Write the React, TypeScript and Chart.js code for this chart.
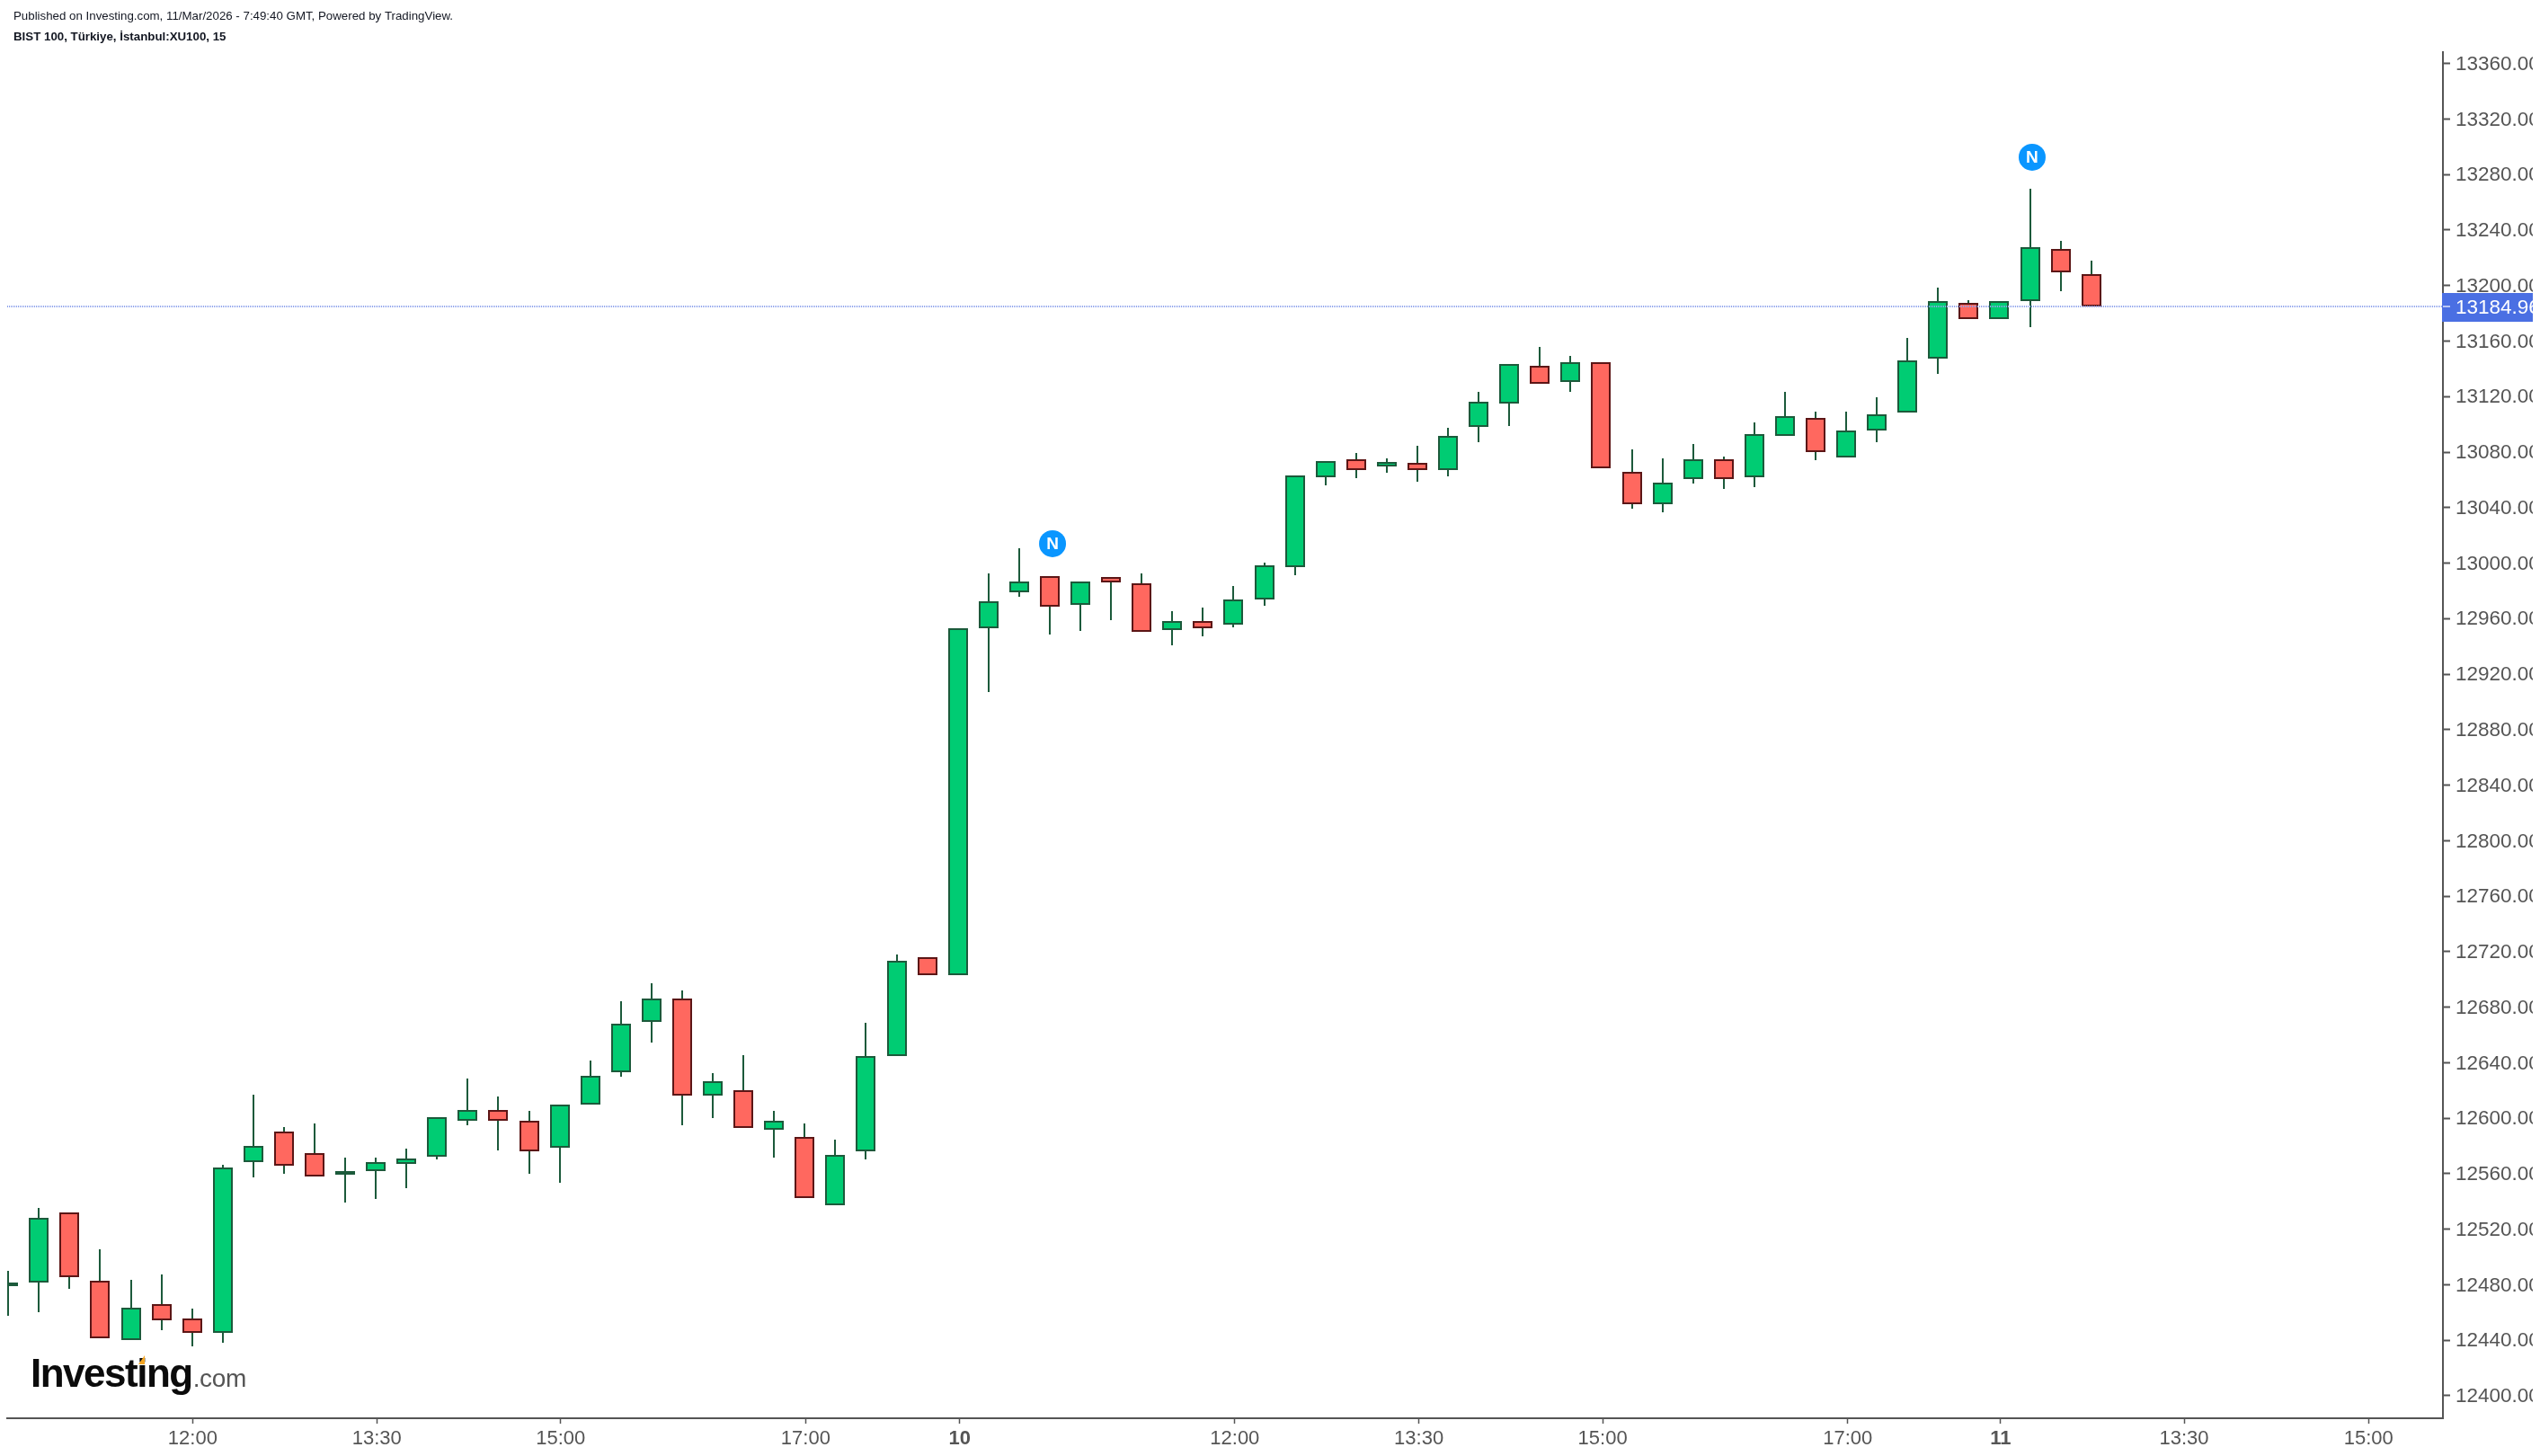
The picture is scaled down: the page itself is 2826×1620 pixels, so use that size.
import React, { useEffect, useRef } from "react";
import { Chart, registerables } from "chart.js";

Chart.register(...registerables);

const WIDTH = 2818;
const HEIGHT = 1620;

const openPrices = [
  12478.8, 12481.4, 12532.3, 12483.1, 12439.9, 12466.2, 12455.9, 12445.1, 12568.2, 12590.6,
  12575.0, 12559.1, 12561.7, 12566.9, 12572.0, 12598.0, 12606.1, 12598.3, 12578.5, 12609.6,
  12632.9, 12669.2, 12686.4, 12616.1, 12620.4, 12591.5, 12586.7, 12537.1, 12575.9, 12644.6,
  12716.2, 12702.9, 12952.9, 12978.8, 12990.8, 12969.7, 12989.8, 12985.6, 12951.6, 12958.4,
  12955.5, 12973.6, 12996.9, 13061.7, 13075.0, 13069.5, 13072.4, 13066.9, 13098.0, 13114.8,
  13142.4, 13130.3, 13145.0, 13066.0, 13042.3, 13060.4, 13075.0, 13061.7, 13091.5, 13104.8,
  13075.9, 13095.4, 13108.3, 13147.2, 13187.7, 13175.7, 13188.6, 13226.6, 13208.4,
];
const highPrices = [
  12490.0, 12535.3, 12532.3, 12505.5, 12483.5, 12487.4, 12462.8, 12566.4, 12616.9, 12593.6,
  12596.2, 12571.6, 12571.6, 12578.1, 12600.9, 12628.6, 12615.6, 12605.3, 12610.0, 12641.5,
  12684.3, 12697.2, 12692.1, 12632.5, 12645.4, 12605.3, 12596.2, 12584.5, 12668.7, 12718.0,
  12716.2, 12953.3, 12992.6, 13010.7, 12990.8, 12986.9, 12989.8, 12992.6, 12965.4, 12968.0,
  12983.5, 13000.3, 13063.4, 13073.7, 13079.4, 13075.5, 13084.5, 13097.5, 13123.4, 13143.7,
  13155.8, 13149.3, 13145.0, 13082.0, 13075.5, 13085.8, 13076.8, 13101.4, 13123.4, 13109.2,
  13109.2, 13119.5, 13162.3, 13198.5, 13189.5, 13189.0, 13269.8, 13232.2, 13218.0,
];
const lowPrices = [
  12457.6, 12460.2, 12477.0, 12441.2, 12439.9, 12447.2, 12435.6, 12438.2, 12557.3, 12559.9,
  12557.8, 12539.2, 12541.8, 12549.6, 12570.3, 12594.9, 12576.8, 12559.9, 12553.4, 12609.6,
  12629.9, 12654.5, 12594.9, 12600.1, 12592.8, 12571.6, 12542.3, 12537.1, 12570.3, 12644.6,
  12702.9, 12702.9, 12907.1, 12975.7, 12948.5, 12951.1, 12958.9, 12950.3, 12940.8, 12947.2,
  12953.7, 12969.3, 12991.3, 13056.0, 13061.2, 13065.1, 13058.6, 13062.5, 13087.1, 13098.8,
  13129.0, 13123.4, 13068.2, 13039.2, 13036.6, 13057.3, 13053.5, 13054.8, 13091.5, 13074.2,
  13075.9, 13087.1, 13108.3, 13136.4, 13175.7, 13175.7, 13170.0, 13196.0, 13184.96,
];
const closePrices = [
  12481.8, 12528.4, 12485.3, 12441.2, 12463.6, 12454.2, 12445.1, 12564.7, 12580.2, 12565.6,
  12557.8, 12562.1, 12568.5, 12571.1, 12600.9, 12606.1, 12598.0, 12575.9, 12610.0, 12630.7,
  12668.3, 12686.4, 12616.1, 12626.8, 12592.8, 12598.3, 12542.3, 12573.7, 12645.0, 12713.6,
  12702.9, 12953.3, 12972.7, 12986.9, 12968.4, 12986.9, 12986.3, 12950.3, 12958.4, 12952.9,
  12974.0, 12998.6, 13063.4, 13073.7, 13066.9, 13072.9, 13066.9, 13091.9, 13116.5, 13143.7,
  13129.0, 13145.0, 13068.2, 13042.3, 13058.2, 13075.0, 13060.4, 13093.2, 13106.1, 13079.8,
  13095.8, 13107.4, 13146.3, 13189.0, 13175.7, 13189.0, 13227.9, 13209.4, 13184.96,
];

const yTicks = [
  12400, 12440, 12480, 12520, 12560, 12600, 12640, 12680, 12720, 12760, 12800, 12840, 12880,
  12920, 12960, 13000, 13040, 13080, 13120, 13160, 13200, 13240, 13280, 13320, 13360,
];
const xTickPositions = [6.02, 12.03, 18.03, 26.03, 31.06, 40.04, 46.05, 52.05, 60.05, 65.04, 71.03, 77.05];
const xTickLabels = ["12:00", "13:30", "15:00", "17:00", "10", "12:00", "13:30", "15:00", "17:00", "11", "13:30", "15:00"];
const dayTickPositions = [31.06, 65.04];

const newsX = [34.09, 66.07];
const newsY = [13014, 13292.5];

const lastPrice = 13184.96;
const xMin = -0.035;
const xMax = 79.48;
const yMin = 12383.8;
const yMax = 13368.2;

const headerLine = "Published on Investing.com, 11/Mar/2026 - 7:49:40 GMT, Powered by TradingView.";
const titleLine = "BIST 100, Türkiye, İstanbul:XU100, 15";

const UP = "#00CC73";
const UP_EDGE = "#1C5A3B";
const DOWN = "#FF685F";
const DOWN_EDGE = "#5C1616";
const WICK = "#1C5A3B";
const AXIS = "#555555";
const LABEL = "#555555";
const FONT = '"Liberation Sans", Arial, sans-serif';

const isUp = closePrices.map((c, i) => c >= openPrices[i]);

const crispBarsPlugin = {
  id: "crispBars",
  beforeDatasetsDraw(chart: any) {
    [1, 2].forEach((index) => {
      chart.getDatasetMeta(index).data.forEach((el: any) => {
        el.x = Math.round(el.x);
        el.y = Math.round(el.y);
        el.base = Math.round(el.base);
      });
    });
  },
};

const overlayPlugin = {
  id: "overlay",
  afterDraw(chart: any) {
    const { ctx, scales } = chart;
    ctx.save();

    ctx.fillStyle = "#131722";
    ctx.textAlign = "left";
    ctx.textBaseline = "middle";
    ctx.font = `13.3px ${FONT}`;
    ctx.fillText(headerLine, 15, 18);
    ctx.font = `bold 13.3px ${FONT}`;
    ctx.fillText(titleLine, 15, 41);

    // News badges
    const meta = chart.getDatasetMeta(3);
    ctx.fillStyle = "#FFFFFF";
    ctx.font = `bold 19px ${FONT}`;
    ctx.textAlign = "center";
    meta.data.forEach((pt: any) => ctx.fillText("N", pt.x, pt.y + 1));

    // Last price label
    const y = Math.round(scales.y.getPixelForValue(lastPrice));
    ctx.fillStyle = "#4A6FE3";
    ctx.fillRect(2717, y - 15, WIDTH - 2717, 32);
    ctx.strokeStyle = "#B9C6F4";
    ctx.lineWidth = 2;
    ctx.beginPath();
    ctx.moveTo(2718, y);
    ctx.lineTo(2726, y);
    ctx.stroke();
    ctx.fillStyle = "#FFFFFF";
    ctx.font = `22.5px ${FONT}`;
    ctx.textAlign = "left";
    ctx.fillText(lastPrice.toFixed(2), 2732, y + 1.5);

    // Logo
    ctx.textBaseline = "alphabetic";
    ctx.fillStyle = "#0B0B0B";
    ctx.font = `bold 44px ${FONT}`;
    (ctx as any).letterSpacing = "-1.5px";
    ctx.fillText("Investing", 34, 1543);
    const w = ctx.measureText("Investing").width;
    ctx.fillStyle = "#555555";
    ctx.font = `28px ${FONT}`;
    (ctx as any).letterSpacing = "-0.3px";
    ctx.fillText(".com", 34 + w + 1, 1543);
    (ctx as any).letterSpacing = "0px";
    ctx.fillStyle = "#F5A623";
    ctx.beginPath();
    ctx.moveTo(154, 1518);
    ctx.lineTo(161, 1508);
    ctx.lineTo(161, 1518);
    ctx.closePath();
    ctx.fill();

    ctx.restore();
  },
};

export default function App() {
  const ref = useRef<HTMLCanvasElement | null>(null);

  useEffect(() => {
    document.body.style.margin = "0";
    document.body.style.background = "#FFFFFF";
    const canvas = ref.current;
    if (!canvas) return;
    const chart = new Chart(canvas, {
      type: "bar",
      data: {
        datasets: [
          {
            type: "line",
            label: "Last",
            data: [
              { x: xMin, y: lastPrice },
              { x: xMax, y: lastPrice },
            ],
            borderColor: "#8FA3EC",
            borderWidth: 2,
            borderDash: [1, 1],
            pointRadius: 0,
            order: 0,
          },
          {
            type: "bar",
            label: "Bodies",
            data: openPrices.map((o, i) => ({
              x: i,
              y: [Math.min(o, closePrices[i]), Math.max(o, closePrices[i])],
            })),
            backgroundColor: isUp.map((u) => (u ? UP : DOWN)),
            borderColor: isUp.map((u) => (u ? UP_EDGE : DOWN_EDGE)),
            borderWidth: 2,
            borderSkipped: false,
            inflateAmount: 0,
            barThickness: 22,
            grouped: false,
            order: 1,
          },
          {
            type: "bar",
            label: "Wicks",
            data: highPrices.map((h, i) => ({ x: i, y: [lowPrices[i], h] })),
            backgroundColor: WICK,
            borderWidth: 0,
            inflateAmount: 0,
            barThickness: 2,
            grouped: false,
            order: 2,
          },
          {
            type: "line",
            label: "News",
            data: newsX.map((x, i) => ({ x, y: newsY[i] })),
            showLine: false,
            pointRadius: 15,
            pointBackgroundColor: "#0A96FF",
            pointBorderWidth: 0,
            order: 3,
          },
        ],
      } as any,
      options: {
        animation: false,
        responsive: false,
        devicePixelRatio: 1,
        events: [],
        layout: { autoPadding: false, padding: { left: 8, top: 58, right: 0, bottom: 0 } },
        plugins: { legend: { display: false }, tooltip: { enabled: false }, title: { display: false } },
        scales: {
          x: {
            type: "linear",
            min: xMin,
            max: xMax,
            offset: false,
            afterBuildTicks: (s: any) => {
              s.ticks = xTickPositions.map((value) => ({ value }));
            },
            afterFit: (s: any) => {
              s.height = 42;
              s.paddingLeft = 0;
              s.paddingRight = 0;
            },
            grid: {
              offset: false,
              drawOnChartArea: false,
              drawTicks: true,
              tickLength: 6,
              tickColor: AXIS,
              tickWidth: 1.5,
            },
            border: { display: true, color: AXIS, width: 2 },
            ticks: {
              autoSkip: false,
              maxRotation: 0,
              minRotation: 0,
              padding: 4,
              color: LABEL,
              font: (c: any) => ({
                family: FONT,
                size: 22,
                weight: c.tick && dayTickPositions.includes(c.tick.value) ? "bold" : "normal",
              }),
              callback: (v: any) => xTickLabels[xTickPositions.indexOf(v)],
            },
          },
          y: {
            type: "linear",
            position: "right",
            min: yMin,
            max: yMax,
            afterBuildTicks: (s: any) => {
              s.ticks = yTicks.map((value) => ({ value }));
            },
            afterFit: (s: any) => {
              s.width = WIDTH - 2718;
              s.paddingTop = 0;
              s.paddingBottom = 0;
            },
            grid: {
              drawOnChartArea: false,
              drawTicks: true,
              tickLength: 8,
              tickColor: AXIS,
              tickWidth: 2,
            },
            border: { display: true, color: AXIS, width: 2 },
            ticks: {
              autoSkip: false,
              padding: 6,
              labelOffset: 1,
              color: LABEL,
              font: { family: FONT, size: 22.5 },
              callback: (v: any) => Number(v).toFixed(2),
            },
          },
        },
      } as any,
      plugins: [crispBarsPlugin, overlayPlugin],
    } as any);
    return () => chart.destroy();
  }, []);

  return (
    <div style={{ position: "absolute", left: 0, top: 0, width: WIDTH, height: HEIGHT }}>
      <canvas ref={ref} width={WIDTH} height={HEIGHT} style={{ display: "block", width: WIDTH, height: HEIGHT }} />
    </div>
  );
}
